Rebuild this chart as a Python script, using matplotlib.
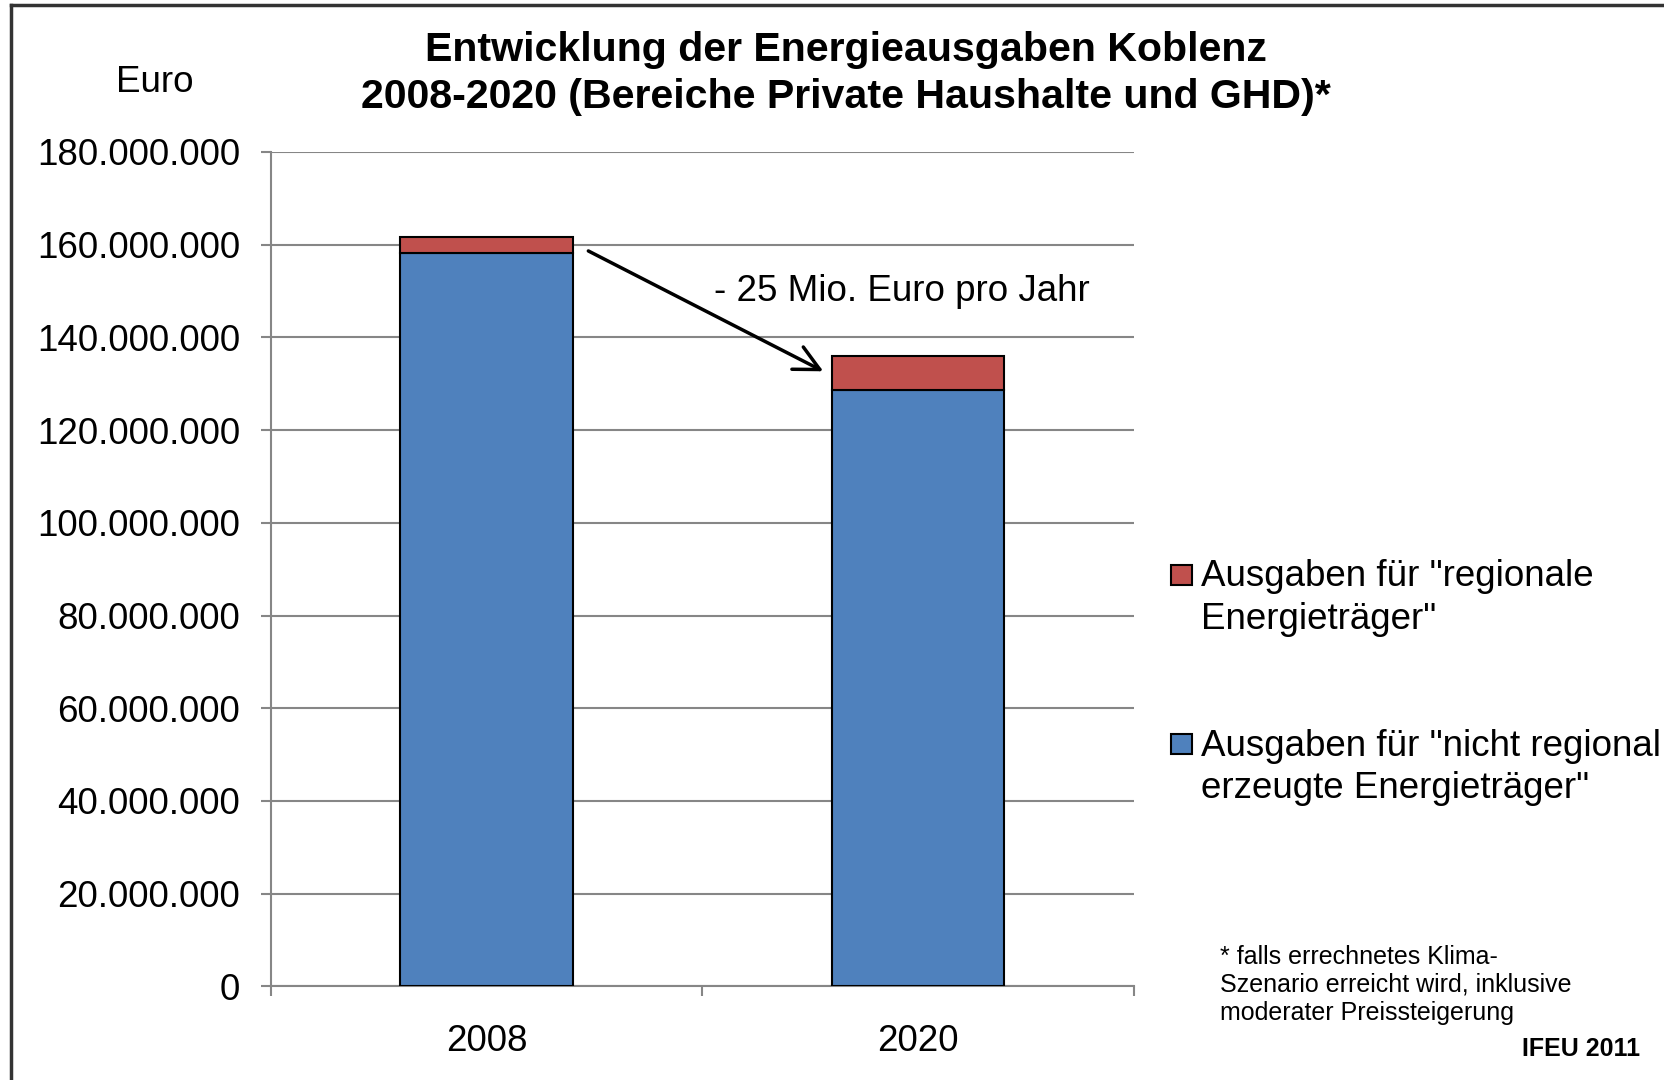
import matplotlib.pyplot as plt
from matplotlib.lines import Line2D
from matplotlib.patches import Rectangle

plt.rcParams['font.family'] = ['Liberation Sans', 'DejaVu Sans']

years = ['2008', '2020']
nicht_regional = [158.1e6, 128.6e6]
regional = [3.5e6, 7.4e6]
yticks = [0, 20e6, 40e6, 60e6, 80e6, 100e6, 120e6, 140e6, 160e6, 180e6]
ytick_labels = ['0', '20.000.000', '40.000.000', '60.000.000', '80.000.000',
                '100.000.000', '120.000.000', '140.000.000', '160.000.000', '180.000.000']
legend_labels = ['Ausgaben für "regionale\nEnergieträger"',
                 'Ausgaben für "nicht regional\nerzeugte Energieträger"']

blue = '#4f81bd'
red = '#c0504d'
grid = '#868686'

fig = plt.figure(figsize=(16.65, 10.8), dpi=100)
ax = fig.add_axes([0.1627, 0.0866, 0.5183, 0.7728])

x = range(len(years))
ax.bar(x, nicht_regional, width=0.4, color=blue, edgecolor='black', linewidth=1.5, zorder=3)
ax.bar(x, regional, width=0.4, bottom=nicht_regional, color=red, edgecolor='black',
       linewidth=1.5, zorder=3)

ax.set_xlim(-0.5, 1.5)
ax.set_ylim(0, 180e6)
ax.set_yticks(yticks)
ax.set_yticklabels(ytick_labels, fontsize=26.5)
ax.set_xticks([-0.5, 0.5, 1.5])
ax.set_xticklabels([])
ax.set_xticks(list(x), minor=True)
ax.set_xticklabels(years, minor=True, fontsize=26.5)
ax.tick_params(axis='x', which='minor', length=0, pad=27)
ax.tick_params(axis='x', which='major', length=7, color=grid, width=1.5)
ax.tick_params(axis='y', length=7, color=grid, width=1.5, pad=15)
ax.grid(axis='y', color=grid, linewidth=1.5, zorder=0)
for s in ['top', 'right']:
    ax.spines[s].set_visible(False)
for s in ['left', 'bottom']:
    ax.spines[s].set_color(grid)
    ax.spines[s].set_linewidth(1.5)

# arrow from 2008 to 2020
ax.annotate('', xy=(0.786, 132.4e6), xytext=(0.23, 158.9e6),
            arrowprops=dict(arrowstyle='->', color='black', lw=2.5, mutation_scale=45),
            zorder=4)
ax.text(0.526, 149.8e6, '- 25 Mio. Euro pro Jahr', fontsize=26.5, va='center', ha='left')

fig.text(0.508, 0.9538, 'Entwicklung der Energieausgaben Koblenz', fontsize=29.6,
         fontweight='bold', ha='center', va='center')
fig.text(0.508, 0.9105, '2008-2020 (Bereiche Private Haushalte und GHD)*', fontsize=29.6,
         fontweight='bold', ha='center', va='center')
fig.text(0.093, 0.924, 'Euro', fontsize=26.5, ha='center', va='center')

# legend, patch next to first line of each entry
colors = [red, blue]
legend_y = [0.468, 0.311]
for c, yy, lab in zip(colors, legend_y, legend_labels):
    fig.add_artist(Rectangle((0.7033, yy - 0.0093), 0.0126, 0.0185, facecolor=c,
                             edgecolor='black', linewidth=1.5, transform=fig.transFigure))
    fig.text(0.7213, yy + 0.0141, lab, fontsize=26.5, ha='left', va='top', linespacing=1.27)

fig.text(0.733, 0.125, '* falls errechnetes Klima-\nSzenario erreicht wird, inklusive\nmoderater Preissteigerung',
         fontsize=18, ha='left', va='top', linespacing=1.2)
fig.text(0.985, 0.0287, 'IFEU 2011', fontsize=18, fontweight='bold', ha='right', va='center')

# frame lines on top and left edge
fig.add_artist(Line2D([0.0066, 1.0], [0.9955, 0.9955], color='#333333', lw=2.5,
                      transform=fig.transFigure))
fig.add_artist(Line2D([0.0066, 0.0066], [0.0, 0.9955], color='#333333', lw=2.5,
                      transform=fig.transFigure))

fig.savefig('out.png', dpi=100)
